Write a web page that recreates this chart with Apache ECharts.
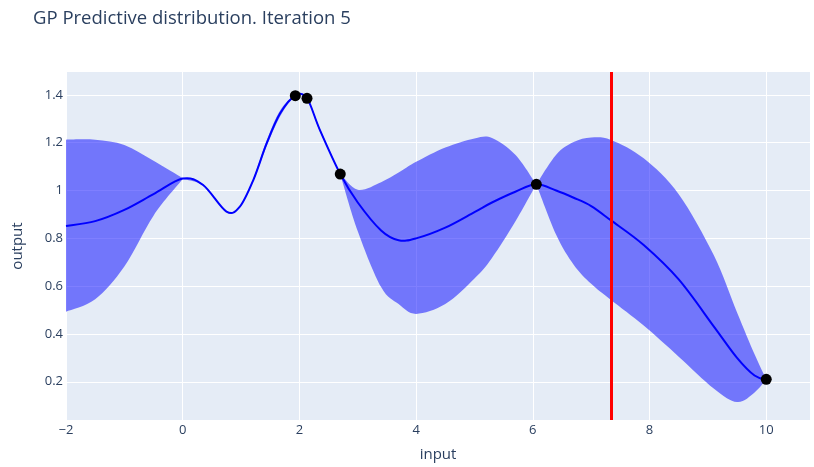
<!DOCTYPE html>
<html>
<head>
<meta charset="utf-8">
<script src="https://cdn.jsdelivr.net/npm/echarts@6/dist/echarts.min.js"></script>
<style>html,body{margin:0;padding:0;background:#fff;}#chart{width:814px;height:467px;}</style>
</head>
<body>
<div id="chart"></div>
<script>
// ---- data ----
const gridX  = [-2, -1.5, -1, -0.5, 0, 0.35, 0.75, 0.98, 1.21, 1.44, 1.67, 1.93, 2.13, 2.35, 2.7, 3.0, 3.4, 3.7, 4.0, 4.5, 5.0, 5.3, 5.7, 6.06, 6.4, 6.7, 7.0, 7.34, 7.9, 8.5, 9.1, 9.5, 9.8, 10];
const meanY  = [0.852, 0.872, 0.919, 0.985, 1.050, 1.023, 0.912, 0.933, 1.044, 1.198, 1.323, 1.397, 1.386, 1.254, 1.069, 0.950, 0.833, 0.792, 0.800, 0.845, 0.910, 0.950, 0.995, 1.026, 1.000, 0.970, 0.935, 0.875, 0.772, 0.628, 0.432, 0.300, 0.226, 0.210];
const upperY = [1.213, 1.213, 1.191, 1.125, 1.052, 1.026, 0.914, 0.936, 1.050, 1.210, 1.335, 1.399, 1.388, 1.260, 1.070, 1.003, 1.035, 1.075, 1.120, 1.180, 1.218, 1.220, 1.150, 1.026, 1.150, 1.203, 1.222, 1.212, 1.135, 0.985, 0.730, 0.490, 0.315, 0.210];
const lowerY = [0.493, 0.545, 0.682, 0.895, 1.048, 1.020, 0.910, 0.930, 1.038, 1.186, 1.311, 1.395, 1.384, 1.248, 1.068, 0.830, 0.596, 0.525, 0.484, 0.525, 0.632, 0.718, 0.870, 1.026, 0.815, 0.690, 0.610, 0.542, 0.435, 0.305, 0.172, 0.115, 0.155, 0.210];
const bandBreaks = [0, 2.7, 6.06];   // x values where the band pinches
const obsX = [1.93, 2.13, 2.70, 6.06, 10];
const obsY = [1.397, 1.386, 1.069, 1.026, 0.21];
const nextX = 7.34;
const xTicks = [-2, 0, 2, 4, 6, 8, 10];
const yTicks = [0.2, 0.4, 0.6, 0.8, 1, 1.2, 1.4];

const font = '"Open Sans", "Noto Sans", sans-serif';
const txt = '#2a3f5f';
const pair = (xs, ys) => xs.map((x, i) => [x, ys[i]]);

// Catmull-Rom -> cubic bezier path commands (pixel points), pen assumed at pts[0]
function curveTo(pts) {
  let s = '';
  for (let i = 0; i < pts.length - 1; i++) {
    const p0 = pts[i - 1] || pts[i], p1 = pts[i], p2 = pts[i + 1], p3 = pts[i + 2] || pts[i + 1];
    const c1 = [p1[0] + (p2[0] - p0[0]) / 6, p1[1] + (p2[1] - p0[1]) / 6];
    const c2 = [p2[0] - (p3[0] - p1[0]) / 6, p2[1] - (p3[1] - p1[1]) / 6];
    s += 'C' + c1[0] + ' ' + c1[1] + ' ' + c2[0] + ' ' + c2[1] + ' ' + p2[0] + ' ' + p2[1];
  }
  return s;
}

function renderBand(params, api) {
  if (params.dataIndex !== 0) return null;
  const cuts = [0];
  bandBreaks.forEach(b => cuts.push(gridX.indexOf(b)));
  cuts.push(gridX.length - 1);
  let d = '';
  for (let k = 0; k < cuts.length - 1; k++) {
    const up = [], lo = [];
    for (let i = cuts[k]; i <= cuts[k + 1]; i++) {
      up.push(api.coord([gridX[i], upperY[i]]));
      lo.push(api.coord([gridX[i], lowerY[i]]));
    }
    lo.reverse();
    d += 'M' + up[0][0] + ' ' + up[0][1] + curveTo(up) + 'L' + lo[0][0] + ' ' + lo[0][1] + curveTo(lo) + 'Z';
  }
  return {type: 'path', shape: {pathData: d}, style: {fill: 'rgba(0,0,255,0.5)', stroke: null}};
}

function renderMean(params, api) {
  if (params.dataIndex !== 0) return null;
  const pts = gridX.map((x, i) => api.coord([x, meanY[i]]));
  const d = 'M' + pts[0][0] + ' ' + pts[0][1] + curveTo(pts);
  return {type: 'path', shape: {pathData: d},
    style: {fill: null, stroke: '#0000ff', lineWidth: 2, lineJoin: 'round'}};
}

const chart = echarts.init(document.getElementById('chart'), null, {renderer: 'canvas'});
chart.setOption({
  animation: false,
  backgroundColor: '#ffffff',
  title: {
    text: 'GP Predictive distribution. Iteration 5',
    left: 28, top: 4,
    textStyle: {fontFamily: font, fontSize: 18.5, fontWeight: 'normal', color: txt}
  },
  grid: {left: 66, right: 4, top: 72, bottom: 47, outerBoundsMode: 'none', containLabel: false,
    show: true, backgroundColor: '#E5ECF6', borderWidth: 0},
  xAxis: {
    type: 'value', min: -2, max: 10.75,
    name: 'input', nameLocation: 'middle', nameGap: 27,
    nameTextStyle: {fontFamily: font, fontSize: 15, color: txt},
    axisLine: {show: false},
    axisTick: {show: false, customValues: xTicks},
    axisLabel: {customValues: xTicks, fontFamily: font, fontSize: 13, color: txt, margin: 4,
      formatter: v => String(v).replace('-', '\u2212')},
    splitLine: {show: true, lineStyle: {color: '#ffffff', width: 1}}
  },
  yAxis: {
    type: 'value', min: 0.04, max: 1.496,
    name: 'output', nameLocation: 'middle', nameGap: 41,
    nameTextStyle: {fontFamily: font, fontSize: 15, color: txt},
    axisLine: {show: false},
    axisTick: {show: false, customValues: yTicks},
    axisLabel: {customValues: yTicks, fontFamily: font, fontSize: 13, color: txt, margin: 3,
      formatter: v => String(Math.round(v * 10) / 10)},
    splitLine: {show: true, lineStyle: {color: '#ffffff', width: 1}}
  },
  series: [
    {type: 'custom', name: 'band', data: pair(gridX, upperY), renderItem: renderBand, silent: true, z: 1},
    {type: 'custom', name: 'mean', data: pair(gridX, meanY), renderItem: renderMean, silent: true, z: 2},
    {
      type: 'scatter', name: 'observations', data: pair(obsX, obsY),
      symbol: 'circle', symbolSize: 11, z: 5,
      itemStyle: {color: '#000000', opacity: 1},
      markLine: {
        silent: true, symbol: 'none', label: {show: false}, z: 4,
        lineStyle: {color: '#ff0000', width: 3, type: 'solid'},
        data: [{xAxis: nextX}]
      }
    }
  ]
});
</script>
</body>
</html>
